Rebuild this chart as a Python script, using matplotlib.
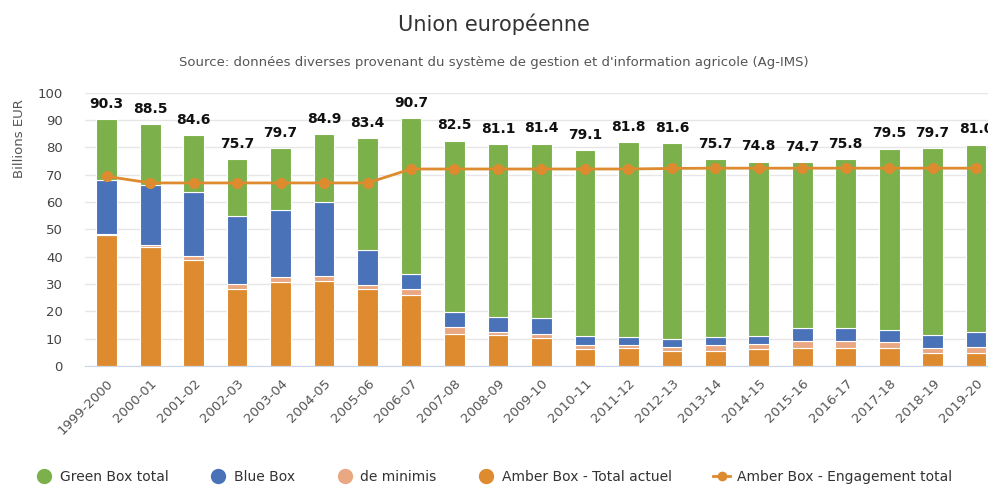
import numpy as np
import matplotlib.pyplot as plt
from matplotlib.lines import Line2D

years = ['1999-2000', '2000-01', '2001-02', '2002-03', '2003-04', '2004-05', '2005-06',
         '2006-07', '2007-08', '2008-09', '2009-10', '2010-11', '2011-12', '2012-13',
         '2013-14', '2014-15', '2015-16', '2016-17', '2017-18', '2018-19', '2019-20']
totals = [90.3, 88.5, 84.6, 75.7, 79.7, 84.9, 83.4, 90.7, 82.5, 81.1, 81.4,
          79.1, 81.8, 81.6, 75.7, 74.8, 74.7, 75.8, 79.5, 79.7, 81.0]
amber = [47.8, 43.5, 38.9, 28.1, 30.6, 31.1, 28.1, 26.0, 11.7, 11.2, 10.4,
         6.1, 6.7, 5.6, 5.6, 6.1, 6.7, 6.7, 6.5, 4.9, 4.6]
de_minimis = [0.6, 0.6, 1.2, 2.0, 1.9, 1.9, 1.5, 2.1, 2.7, 1.4, 1.3,
              1.4, 1.0, 1.5, 1.9, 1.8, 2.3, 2.3, 2.1, 1.8, 2.5]
blue = [19.6, 22.3, 23.6, 24.7, 24.7, 26.9, 12.9, 5.6, 5.3, 5.2, 5.8,
        3.5, 2.8, 2.9, 3.0, 3.1, 4.8, 4.8, 4.6, 4.7, 5.2]
engagement = [69.4, 67.0, 67.0, 67.0, 67.0, 67.0, 67.0, 72.1, 72.1, 72.1, 72.1,
              72.1, 72.1, 72.3, 72.4, 72.4, 72.4, 72.4, 72.4, 72.4, 72.4]
green = [t - a - d - b for t, a, d, b in zip(totals, amber, de_minimis, blue)]

c_green = '#7cb04b'
c_blue = '#4a72b8'
c_dm = '#e9a882'
c_amber = '#de8b2f'

fig = plt.figure(figsize=(9.88, 4.87), dpi=100)
ax = fig.add_axes([0.086, 0.2485, 0.924, 0.561])

x = np.arange(len(years))
w = 0.475
kw = dict(width=w, edgecolor='white', linewidth=0.8, zorder=2)
ax.bar(x, amber, color=c_amber, **kw)
b1 = np.array(amber)
ax.bar(x, de_minimis, bottom=b1, color=c_dm, **kw)
b2 = b1 + np.array(de_minimis)
ax.bar(x, blue, bottom=b2, color=c_blue, **kw)
b3 = b2 + np.array(blue)
ax.bar(x, green, bottom=b3, color=c_green, **kw)

ax.plot(x, engagement, color=c_amber, lw=2, marker='o', ms=7, zorder=3)

for xi, t in zip(x, totals):
    ax.annotate(f'{t:.1f}', (xi, t), xytext=(0, 6), textcoords='offset points',
                ha='center', va='bottom', fontsize=10, fontweight='semibold', color='#111111')

ax.set_xlim(-0.5, len(years) - 0.5)
ax.set_ylim(0, 100)
ax.set_yticks(np.arange(0, 101, 10))
ax.set_xticks(x)
ax.set_xticklabels(years, rotation=45, ha='right', rotation_mode='anchor')
ax.tick_params(axis='y', length=0, labelsize=9.5, labelcolor='#444444', pad=16)
ax.tick_params(axis='x', length=0, labelsize=9.5, labelcolor='#555555', pad=8)
ax.grid(axis='y', color='#e6e6e6', lw=1, zorder=0)
ax.set_axisbelow(True)
for s in ['top', 'right', 'left']:
    ax.spines[s].set_visible(False)
ax.spines['bottom'].set_color('#ccd6eb')

fig.text(0.02, 0.715, 'Billions EUR', rotation=90, ha='center', va='center',
         fontsize=9.5, color='#555555')
fig.text(0.5, 0.95, 'Union européenne', ha='center', va='center',
         fontsize=15, color='#333333')
fig.text(0.5, 0.871, "Source: données diverses provenant du système de gestion et d'information agricole (Ag-IMS)",
         ha='center', va='center', fontsize=9.5, color='#555555')

handles = [
    Line2D([], [], ls='none', marker='o', ms=10, color=c_green),
    Line2D([], [], ls='none', marker='o', ms=10, color=c_blue),
    Line2D([], [], ls='none', marker='o', ms=10, color=c_dm),
    Line2D([], [], ls='none', marker='o', ms=10, color=c_amber),
    Line2D([], [], color=c_amber, lw=2, marker='o', ms=6),
]
labels = ['Green Box total', 'Blue Box', 'de minimis', 'Amber Box - Total actuel',
          'Amber Box - Engagement total']
fig.legend(handles, labels, loc='center', bbox_to_anchor=(0.5, 0.02), ncol=5,
           frameon=False, fontsize=10, handlelength=1.2, handletextpad=0.5,
           columnspacing=3.0, labelcolor='#333333')

fig.savefig('out.png', dpi=100)
